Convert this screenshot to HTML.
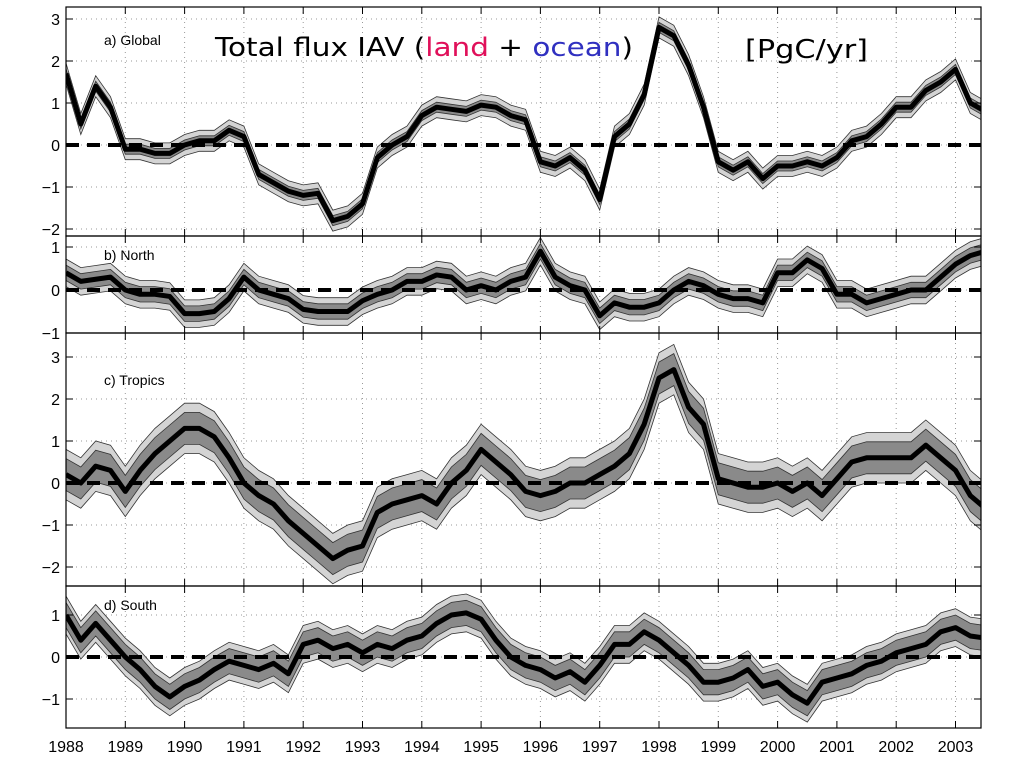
<!DOCTYPE html>
<html><head><meta charset="utf-8"><style>
html,body{margin:0;padding:0;background:#fff;width:1024px;height:768px;overflow:hidden}
svg{display:block;font-family:"Liberation Sans",sans-serif}
</style></head><body>
<svg id="chart" width="1024" height="768" viewBox="0 0 1024 768" xmlns="http://www.w3.org/2000/svg"></svg>
<script>
// quarterly values starting 1988.0
const globalVals=[1.7,0.5,1.4,0.9,-0.1,-0.1,-0.2,-0.2,0.0,0.1,0.1,0.35,0.2,-0.7,-0.9,-1.1,-1.2,-1.15,-1.8,-1.7,-1.4,-0.3,0.0,0.2,0.7,0.9,0.85,0.8,0.95,0.9,0.7,0.6,-0.4,-0.5,-0.3,-0.6,-1.3,0.2,0.5,1.2,2.8,2.6,1.9,0.9,-0.4,-0.6,-0.4,-0.8,-0.5,-0.5,-0.4,-0.5,-0.3,0.1,0.2,0.5,0.9,0.9,1.3,1.5,1.8,1.0,0.8];
const northVals=[0.4,0.2,0.25,0.3,0.0,-0.1,-0.1,-0.15,-0.55,-0.55,-0.5,-0.2,0.3,0.0,-0.1,-0.2,-0.45,-0.5,-0.5,-0.5,-0.25,-0.1,0.0,0.2,0.2,0.35,0.3,0.0,0.1,0.0,0.2,0.3,0.9,0.3,0.1,0.0,-0.6,-0.3,-0.4,-0.4,-0.3,0.0,0.2,0.1,-0.1,-0.2,-0.2,-0.3,0.4,0.4,0.7,0.5,-0.1,-0.1,-0.3,-0.2,-0.1,0.0,0.0,0.3,0.6,0.8,0.9];
const tropicsVals=[0.2,0.0,0.4,0.3,-0.2,0.3,0.7,1.0,1.3,1.3,1.1,0.6,0.0,-0.3,-0.5,-0.9,-1.2,-1.5,-1.8,-1.6,-1.5,-0.7,-0.5,-0.4,-0.3,-0.5,0.0,0.3,0.8,0.5,0.2,-0.2,-0.3,-0.2,0.0,0.0,0.2,0.4,0.7,1.4,2.5,2.7,1.8,1.4,0.1,0.0,-0.1,-0.1,0.0,-0.2,0.0,-0.3,0.1,0.5,0.6,0.6,0.6,0.6,0.9,0.6,0.3,-0.3,-0.6];
const southVals=[1.0,0.4,0.8,0.4,0.0,-0.3,-0.7,-0.95,-0.7,-0.55,-0.3,-0.1,-0.2,-0.3,-0.15,-0.4,0.3,0.4,0.2,0.3,0.1,0.3,0.2,0.4,0.5,0.8,1.0,1.05,0.9,0.4,0.0,-0.2,-0.3,-0.5,-0.35,-0.6,-0.2,0.3,0.3,0.6,0.4,0.1,-0.2,-0.6,-0.6,-0.5,-0.3,-0.7,-0.6,-0.9,-1.1,-0.6,-0.5,-0.4,-0.2,-0.1,0.1,0.2,0.3,0.6,0.7,0.5,0.45];
const panelLabels=["a) Global","b) North","c) Tropics","d) South"];
const innerSpread=[0.12,0.18,0.38,0.3];
const outerSpread=[0.25,0.32,0.6,0.45];
const yearTicks=[1988,1989,1990,1991,1992,1993,1994,1995,1996,1997,1998,1999,2000,2001,2002,2003];
const yTicksA=[-2,-1,0,1,2,3], yTicksB=[-1,0,1], yTicksC=[-2,-1,0,1,2,3], yTicksD=[-1,0,1];

const NS="http://www.w3.org/2000/svg";
const svg=document.getElementById('chart');
const L=66,R=981,x0=1988,pxYr=59.3;
const xs=t=>L+(t-x0)*pxYr;
const panels=[
 {top:7,bot:236,zero:145,ppu:42,vals:globalVals,ticks:yTicksA},
 {top:236,bot:333,zero:290,ppu:43,vals:northVals,ticks:yTicksB},
 {top:333,bot:586,zero:483,ppu:42,vals:tropicsVals,ticks:yTicksC},
 {top:586,bot:728,zero:657,ppu:42,vals:southVals,ticks:yTicksD}];
function mk(tag,attrs,parent){const e=document.createElementNS(NS,tag);for(const k in attrs)e.setAttribute(k,attrs[k]);(parent||svg).appendChild(e);return e;}
const defs=mk('defs',{});
panels.forEach((p,i)=>{
 const cp=mk('clipPath',{id:'cp'+i},defs);mk('rect',{x:L,y:p.top,width:R-L,height:p.bot-p.top},cp);
 const ys=v=>p.zero-v*p.ppu;
 const g=mk('g',{});
 
 
 // grid
 yearTicks.forEach(t=>{const l=mk('line',{x1:xs(t),x2:xs(t),y1:p.top,y2:p.bot,stroke:'#999','stroke-width':1,'stroke-dasharray':'1,4'},g);
  });
 p.ticks.forEach(v=>{const l=mk('line',{x1:L,x2:R,y1:ys(v),y2:ys(v),stroke:'#999','stroke-width':1,'stroke-dasharray':'1,4'},g);
  });
 const cg=mk('g',{'clip-path':'url(#cp'+i+')'},g);
 const pts=(off)=>p.vals.map((v,k)=>[xs(x0+k*0.25),ys(v+off)]);
 const band=(w,fill)=>{const up=pts(w),dn=pts(-w).reverse();
  const d='M'+up.concat(dn).map(q=>q[0].toFixed(1)+','+q[1].toFixed(1)).join('L')+'Z';
  const e=mk('path',{d:d,fill:fill,stroke:'#333','stroke-width':0.8},cg);return e;};
 const ob=band(outerSpread[i],'#d4d4d4');
 const ib=band(innerSpread[i],'#8a8a8a');
 const zl=mk('line',{x1:L,x2:R,y1:ys(0),y2:ys(0),stroke:'#000','stroke-width':4,'stroke-dasharray':'13,8'},cg);
 
 const ml=mk('polyline',{points:pts(0).map(q=>q.join(',')).join(' '),fill:'none',stroke:'#000','stroke-width':5,'stroke-linejoin':'round'},cg);
 
 // frame
 mk('rect',{x:L,y:p.top,width:R-L,height:p.bot-p.top,fill:'none',stroke:'#000','stroke-width':1.2},g);
 yearTicks.forEach(t=>{mk('line',{x1:xs(t),x2:xs(t),y1:p.bot,y2:p.bot-7,stroke:'#000'},g);mk('line',{x1:xs(t),x2:xs(t),y1:p.top,y2:p.top+7,stroke:'#000'},g);});
 p.ticks.forEach(v=>{mk('line',{x1:L,x2:L+7,y1:ys(v),y2:ys(v),stroke:'#000'},g);mk('line',{x1:R,x2:R-7,y1:ys(v),y2:ys(v),stroke:'#000'},g);
  const t=mk('text',{x:L-6,y:ys(v)+6,'text-anchor':'end','font-size':16},g);t.textContent=(v<0?'\u2212'+(-v):v);
  });
 const lb=mk('text',{x:104,y:p.top+(i===0?38:i===2?52:24),'font-size':14},g);lb.textContent=panelLabels[i];
 
});
yearTicks.forEach(t=>{const e=mk('text',{x:xs(t),y:752,'text-anchor':'middle','font-size':16});e.textContent=t;
 });
</script>
<svg style="position:absolute;left:0;top:0" width="1024" height="80">
<text x="215" y="56" font-family="DejaVu Sans, sans-serif" font-size="26" textLength="418" lengthAdjust="spacingAndGlyphs">Total flux IAV (<tspan fill="#e0105a">land</tspan> + <tspan fill="#3030c0">ocean</tspan>)</text>
<text x="745" y="58" font-family="DejaVu Sans, sans-serif" font-size="26" textLength="123" lengthAdjust="spacingAndGlyphs">[PgC/yr]</text>
</svg>
</body></html>
